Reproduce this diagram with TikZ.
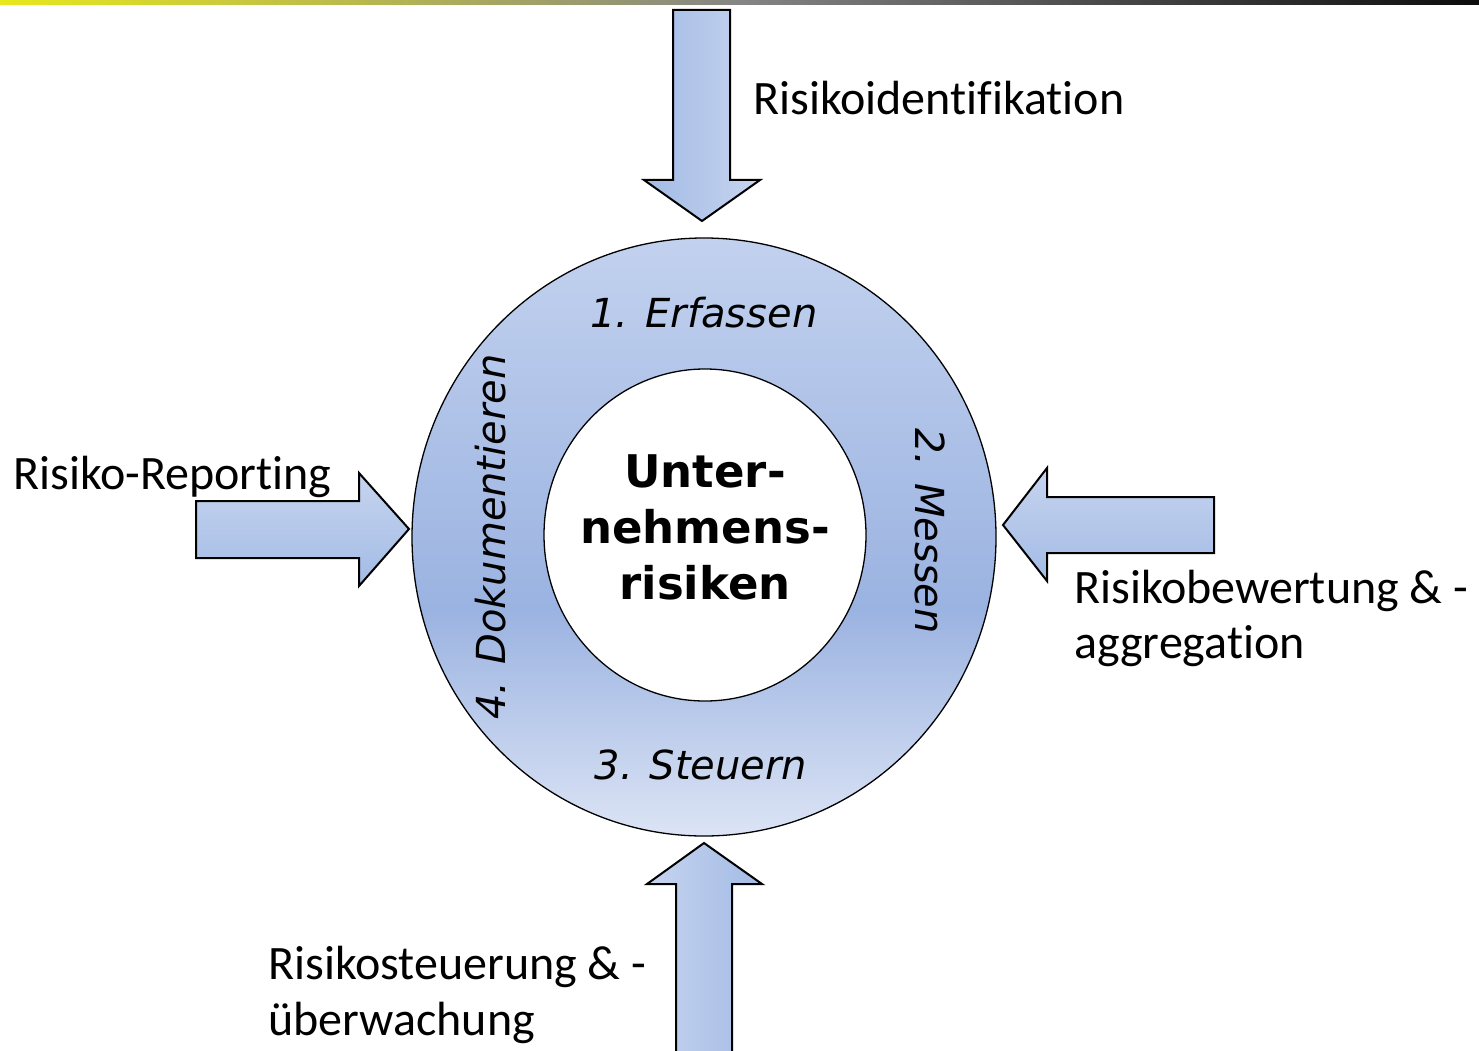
\documentclass[tikz,border=0pt]{standalone}
\usepackage{fontspec}
\setmainfont[Ligatures=NoCommon]{Carlito}
\newfontfamily\verd{DejaVu Sans}
\usetikzlibrary{shapes.geometric}
\definecolor{ringtop}{HTML}{C2D1EE}
\definecolor{ringmid}{HTML}{9BB3E1}
\definecolor{ringbot}{HTML}{DCE4F5}
\definecolor{arrdark}{HTML}{A3BBE5}
\definecolor{arrlight}{HTML}{C6D4EF}
\definecolor{baryellow}{HTML}{E8E81C}
\definecolor{bargray}{HTML}{858585}
\definecolor{barblack}{HTML}{0C0C0C}
\pgfdeclareverticalshading{ringshade}{100bp}{color(0bp)=(ringbot); color(25bp)=(ringbot); color(44bp)=(ringmid); color(75bp)=(ringtop); color(100bp)=(ringtop)}
\begin{document}
\begin{tikzpicture}[x=1pt,y=-1pt,
  blockarrow/.style={draw=black, line width=2pt, line join=miter},
  label/.style={font=\fontsize{48}{56}\selectfont, inner sep=0pt},
  ringlabel/.style={font=\verd\itshape\fontsize{40}{48}\selectfont, inner sep=0pt}]
\useasboundingbox (0,0) rectangle (1479,1051);
% top bar
\shade[left color=baryellow, right color=barblack, middle color=bargray] (0,0) rectangle (1479,5);
% arrows
\coordinate (ttip) at (702,221);
\shadedraw[blockarrow, left color=arrdark, right color=arrlight]
  (673,10) -- (730,10) -- (730,180) -- (760,180) -- (ttip) -- (644,180) -- (673,180) -- cycle;
\coordinate (ltip) at (409,529);
\shadedraw[blockarrow, top color=arrlight, bottom color=arrdark]
  (196,501) -- (359,501) -- (359,473) -- (ltip) -- (359,586) -- (359,558) -- (196,558) -- cycle;
\coordinate (rtip) at (1003,525);
\shadedraw[blockarrow, top color=arrlight, bottom color=arrdark]
  (1214,497) -- (1047,497) -- (1047,468) -- (rtip) -- (1047,581) -- (1047,553) -- (1214,553) -- cycle;
\coordinate (btip) at (704,843);
\shadedraw[blockarrow, left color=arrlight, right color=arrdark]
  (676,1060) -- (676,884) -- (647,884) -- (btip) -- (762,884) -- (732,884) -- (732,1060) -- cycle;
% ring
\node[ellipse, draw=black, line width=1.3pt, shading=ringshade, minimum width=584pt, minimum height=598pt, inner sep=0pt] (ring) at (704,537) {};
\node[ellipse, draw=black, line width=1.3pt, fill=white, minimum width=322pt, minimum height=332pt, inner sep=0pt] (core) at (705,535) {};
\node[font=\verd\bfseries\fontsize{45}{56}\selectfont, align=center, inner sep=0pt] (center) at (705,527) {Unter-\\nehmens-\\risiken};
% ring labels
\node[ringlabel, anchor=base] (l1) at (704,327) {1. Erfassen};
\node[ringlabel, rotate=-90] (l2) at (930,531) {2. Messen};
\node[ringlabel, anchor=base] (l3) at (701,779) {3. Steuern};
\node[ringlabel, rotate=90] (l4) at (491,537) {4. Dokumentieren};
% outer labels
\node[label, anchor=base west] (t1) at (753,115) {Risikoidentifikation};
\node[label, anchor=base west] (t2) at (13,489) {Risiko-Reporting};
\node[label, anchor=base west] (t3a) at (1074,603) {Risikobewertung \& -};
\node[label, anchor=base west] (t3b) at (1074,658) {aggregation};
\node[label, anchor=base west] (t4a) at (268,979) {Risikosteuerung \& -};
\node[label, anchor=base west] (t4b) at (268,1035) {überwachung};
\end{tikzpicture}
\end{document}
